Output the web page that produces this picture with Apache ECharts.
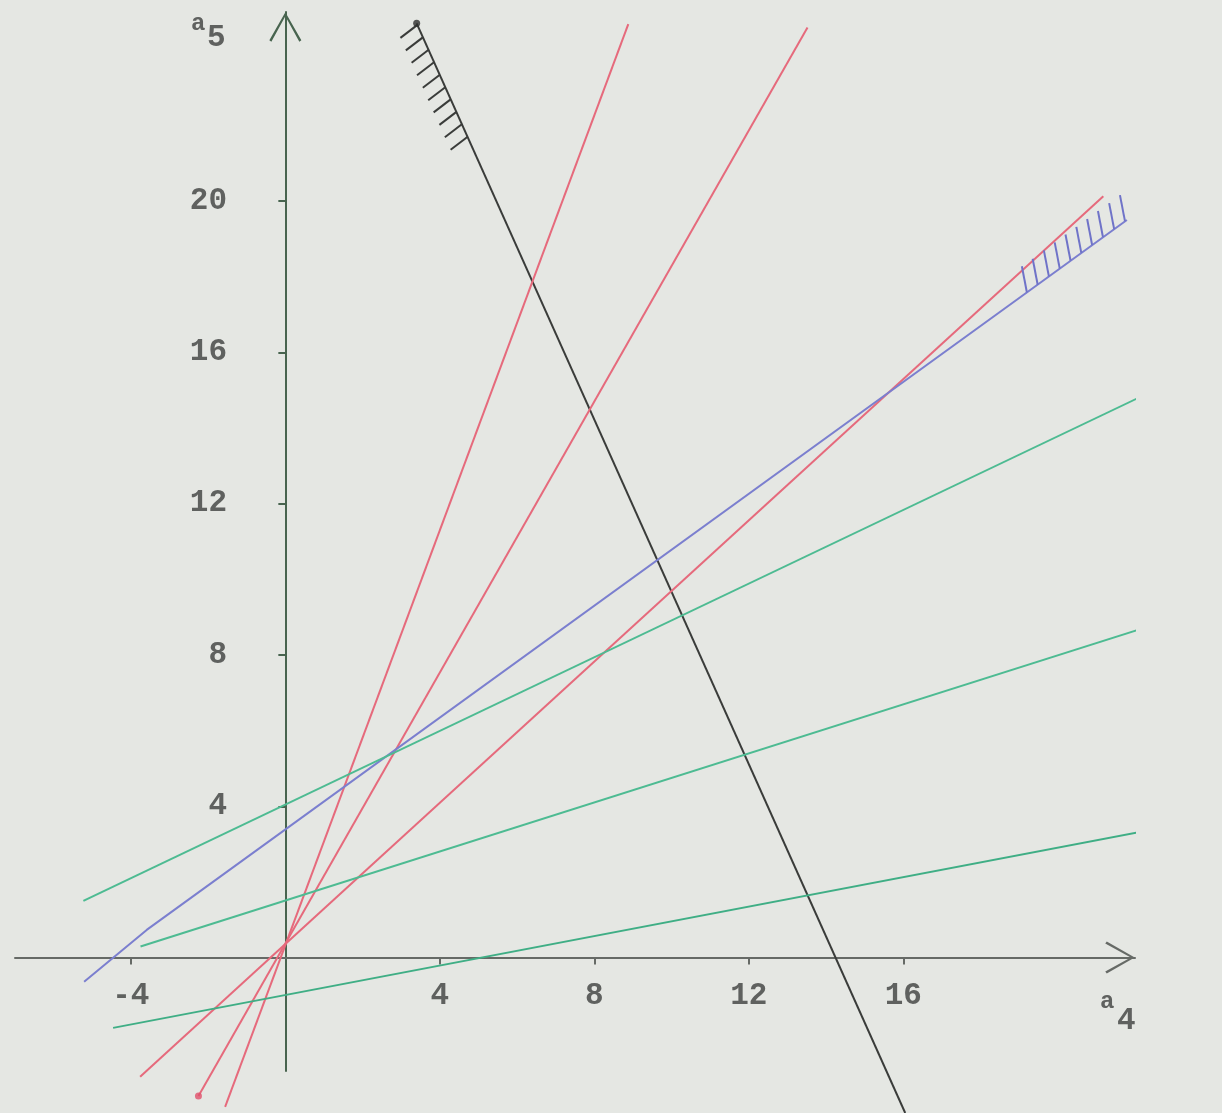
<!DOCTYPE html>
<html>
<head>
<meta charset="utf-8">
<script src="https://cdn.jsdelivr.net/npm/echarts@6/dist/echarts.min.js"></script>
<style>
  html, body { margin: 0; padding: 0; background: #e5e7e3; }
  #main { width: 1222px; height: 1113px; }
</style>
</head>
<body>
<div id="main"></div>
<script>
// tick labels
var xTicks = [-4, 4, 8, 12, 16];
var yTicks = [4, 8, 12, 16, 20];

// lines (a4, a5)
var blackLine = [[3.40, 24.70], [16.05, -4.11]];
var redSteep = [[-1.56, -3.95], [8.88, 24.68]];
var redMid = [[-2.25, -3.66], [13.52, 24.59]];
var redFlat = [[-3.76, -3.15], [21.18, 20.13]];
var blueLine = [[-5.21, -0.64], [-3.59, 0.73], [21.79, 19.50]];
var greenTop = [[-5.23, 1.50], [23.92, 15.69]];
var greenMid = [[-3.75, 0.29], [24.25, 9.37]];
var greenLow = [[-4.46, -1.86], [23.53, 3.59]];

// end dots
var blackDot = [[3.40, 24.70]];
var redDot = [[-2.25, -3.66]];

// hatch feet on the black and blue lines
var blackHatch = [[3.42, 24.66], [3.56, 24.33], [3.71, 24.00], [3.85, 23.67], [4.00, 23.34],
                  [4.14, 23.01], [4.28, 22.69], [4.43, 22.36], [4.57, 22.03], [4.72, 21.70]];
var blueHatch = [[19.20, 17.59], [19.48, 17.79], [19.77, 18.01], [20.05, 18.22], [20.33, 18.43],
                 [20.61, 18.63], [20.89, 18.84], [21.17, 19.05], [21.46, 19.26], [21.74, 19.47]];

var myChart = echarts.init(document.getElementById('main'));

var chevron = 'path://M16,0 L32,28 L30,29.5 L16,4 L2,29.5 L0,28 Z';
var labelFont = '"Liberation Mono", "DejaVu Sans Mono", monospace';

function seg(name, data, color) {
    return {
        name: name,
        type: 'line',
        data: data,
        symbol: 'none',
        clip: false,
        silent: true,
        lineStyle: { color: color, width: 2 },
        z: 3
    };
}

function hatch(data, color, dx, dy) {
    return {
        type: 'custom',
        data: data,
        clip: false,
        silent: true,
        renderItem: function (params, api) {
            var p = api.coord([api.value(0), api.value(1)]);
            return {
                type: 'line',
                shape: { x1: p[0], y1: p[1], x2: p[0] + dx, y2: p[1] + dy },
                style: { stroke: color, lineWidth: 2 }
            };
        },
        z: 4
    };
}

option = {
    backgroundColor: '#e5e7e3',
    animation: false,
    grid: { left: 15, right: 87, top: 12, bottom: 42, outerBoundsMode: 'none', containLabel: false },
    xAxis: {
        type: 'value',
        min: -7,
        max: 22,
        axisLine: {
            onZero: true,
            lineStyle: { color: '#666a66', width: 2 },
            symbol: ['none', chevron],
            symbolSize: [32, 30],
            symbolOffset: [0, -15]
        },
        axisTick: { show: true, customValues: xTicks, length: 7, lineStyle: { color: '#666a66', width: 2 } },
        axisLabel: {
            customValues: xTicks,
            margin: -90,
            fontFamily: labelFont,
            fontWeight: 'bold',
            fontSize: 31,
            color: '#5f615f'
        },
        splitLine: { show: false }
    },
    yAxis: {
        type: 'value',
        min: -3,
        max: 25,
        axisLine: {
            onZero: true,
            lineStyle: { color: '#48644f', width: 2 },
            symbol: ['none', chevron],
            symbolSize: [32, 30],
            symbolOffset: [0, -15]
        },
        axisTick: { show: true, customValues: yTicks, length: 7, lineStyle: { color: '#48644f', width: 2 } },
        axisLabel: {
            customValues: yTicks,
            margin: -212,
            fontFamily: labelFont,
            fontWeight: 'bold',
            fontSize: 31,
            color: '#5f615f'
        },
        splitLine: { show: false }
    },
    graphic: [
        { type: 'text', left: 191, top: 12, style: { text: 'a', font: 'bold 24px ' + labelFont, fill: '#5f615f' } },
        { type: 'text', left: 207, top: 23, style: { text: '5', font: 'bold 31px ' + labelFont, fill: '#5f615f' } },
        { type: 'text', left: 1100, top: 990, style: { text: 'a', font: 'bold 24px ' + labelFont, fill: '#5f615f' } },
        { type: 'text', left: 1117, top: 1006, style: { text: '4', font: 'bold 31px ' + labelFont, fill: '#5f615f' } }
    ],
    series: [
        seg('black', blackLine, '#3a3c3a'),
        seg('red steep', redSteep, '#e66a7c'),
        seg('red mid', redMid, '#e66a7c'),
        seg('red flat', redFlat, '#e66a7c'),
        seg('blue', blueLine, '#7b7fcf'),
        seg('green top', greenTop, '#4dbb92'),
        seg('green mid', greenMid, '#4dbb92'),
        seg('green low', greenLow, '#3fae85'),
        hatch(blackHatch, '#3a3c3a', -17, 13),
        hatch(blueHatch, '#6f73c8', -5, -26),
        {
            type: 'scatter', data: blackDot, symbolSize: 7, clip: false, silent: true,
            itemStyle: { color: '#2e302e' }, z: 5
        },
        {
            type: 'scatter', data: redDot, symbolSize: 7, clip: false, silent: true,
            itemStyle: { color: '#e0506a' }, z: 5
        }
    ]
};

myChart.setOption(option);
</script>
</body>
</html>
